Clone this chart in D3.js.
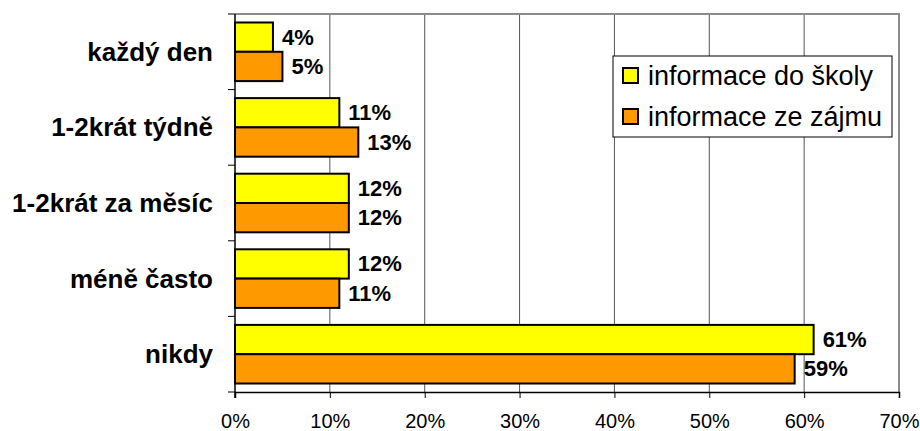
<!DOCTYPE html>
<html>
<head>
<meta charset="utf-8">
<script src="https://cdn.jsdelivr.net/npm/d3@7"></script>
<style>
  body { margin: 0; background: #fff; }
  text { font-family: Arial, "Liberation Sans", sans-serif; fill: #000; }
</style>
</head>
<body>
<svg id="chart" width="920" height="431"></svg>
<script>
// data
var categories = ["každý den", "1-2krát týdně", "1-2krát za měsíc", "méně často", "nikdy"];
var seriesNames = ["informace do školy", "informace ze zájmu"];
var skola = [4, 11, 12, 12, 61];
var zajem = [5, 13, 12, 11, 59];
var xTicks = [0, 10, 20, 30, 40, 50, 60, 70];
var colors = ["#ffff00", "#ff9900"];

var svg = d3.select("#chart");
var pLeft = 235, pRight = 899, pTop = 14, pBottom = 392;

var x = d3.scaleLinear().domain([0, 70]).range([pLeft, pRight]);
var y = d3.scaleBand().domain(categories).range([pTop, pBottom]);
var ySub = d3.scaleBand().domain([0, 1]).range([0, y.bandwidth()]).paddingOuter(0.29);

// gridlines
svg.append("g").selectAll("line")
  .data(xTicks.slice(1, -1))
  .enter().append("line")
  .attr("x1", function(d) { return x(d); })
  .attr("x2", function(d) { return x(d); })
  .attr("y1", pTop).attr("y2", pBottom)
  .attr("stroke", "#555").attr("stroke-width", 1);

// plot border (top + right)
svg.append("path")
  .attr("d", "M" + pLeft + "," + pTop + "H" + pRight + "V" + pBottom)
  .attr("fill", "none").attr("stroke", "#8c8c8c").attr("stroke-width", 2);

// bars
var rows = categories.map(function(c, i) { return {cat: c, vals: [skola[i], zajem[i]]}; });
var grp = svg.append("g").selectAll("g")
  .data(rows).enter().append("g")
  .attr("transform", function(d) { return "translate(0," + y(d.cat) + ")"; });

grp.selectAll("rect")
  .data(function(d) { return d.vals; })
  .enter().append("rect")
  .attr("x", x(0))
  .attr("y", function(d, i) { return ySub(i); })
  .attr("width", function(d) { return x(d) - x(0); })
  .attr("height", ySub.bandwidth())
  .attr("fill", function(d, i) { return colors[i]; })
  .attr("stroke", "#000").attr("stroke-width", 2);

grp.selectAll("text")
  .data(function(d) { return d.vals; })
  .enter().append("text")
  .attr("x", function(d) { return x(d) + 9; })
  .attr("y", function(d, i) { return ySub(i) + ySub.bandwidth() / 2 + 7.5; })
  .attr("font-size", 22).attr("font-weight", "bold")
  .text(function(d) { return d + "%"; });

// x axis
var xAxis = svg.append("g")
  .attr("transform", "translate(0," + pBottom + ")")
  .call(d3.axisBottom(x).tickValues(xTicks).tickSize(6).tickPadding(16)
    .tickFormat(function(d) { return d + "%"; }));
xAxis.select(".domain").attr("stroke", "#000").attr("stroke-width", 1.5);
xAxis.selectAll(".tick line").attr("stroke", "#000");
xAxis.selectAll("text").attr("font-size", 20).attr("font-family", "Arial, 'Liberation Sans', sans-serif");

// y axis (ticks at category boundaries)
var yAxis = svg.append("g");
yAxis.append("line")
  .attr("x1", pLeft).attr("x2", pLeft).attr("y1", pTop).attr("y2", pBottom + 6)
  .attr("stroke", "#000").attr("stroke-width", 1.5);
yAxis.selectAll("line.tk")
  .data(categories.map(function(c) { return y(c); }).concat([pBottom]))
  .enter().append("line").attr("class", "tk")
  .attr("x1", pLeft - 7).attr("x2", pLeft)
  .attr("y1", function(d) { return d; }).attr("y2", function(d) { return d; })
  .attr("stroke", "#000");
yAxis.selectAll("text")
  .data(categories).enter().append("text")
  .attr("x", 213)
  .attr("y", function(d) { return y(d) + y.bandwidth() / 2 + 9; })
  .attr("text-anchor", "end")
  .attr("font-size", 26).attr("font-weight", "bold")
  .text(function(d) { return d; });

// legend
var legend = svg.append("g").attr("transform", "translate(613,56)");
legend.append("rect")
  .attr("width", 279).attr("height", 81)
  .attr("fill", "#fff").attr("stroke", "#000").attr("stroke-width", 1);
var item = legend.selectAll("g.item")
  .data(seriesNames).enter().append("g").attr("class", "item")
  .attr("transform", function(d, i) { return "translate(10," + (12 + i * 41) + ")"; });
item.append("rect")
  .attr("width", 15).attr("height", 15)
  .attr("fill", function(d, i) { return colors[i]; })
  .attr("stroke", "#000").attr("stroke-width", 2);
item.append("text")
  .attr("x", 25).attr("y", 17)
  .attr("font-size", 27)
  .text(function(d) { return d; });
</script>
</body>
</html>
